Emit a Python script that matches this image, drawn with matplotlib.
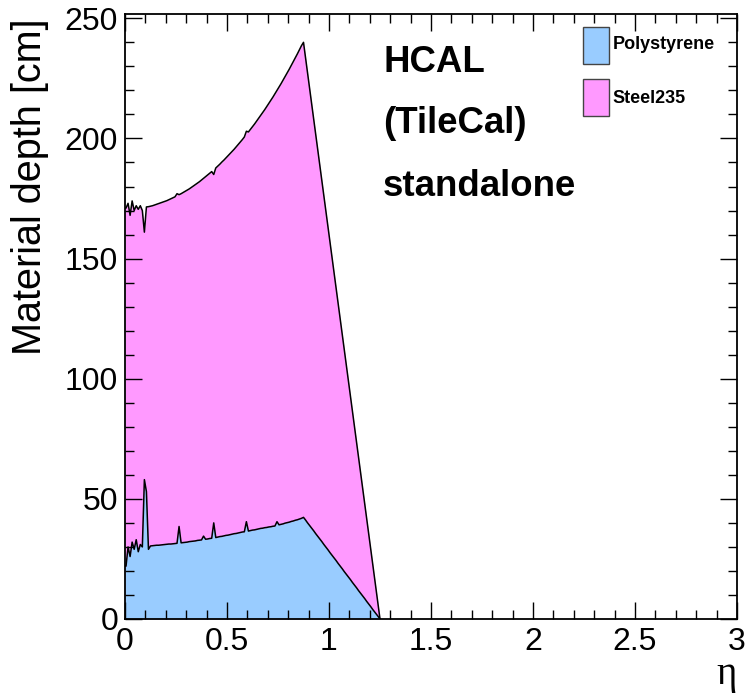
import numpy as np
import matplotlib.pyplot as plt
from matplotlib.patches import Rectangle
from matplotlib.ticker import MultipleLocator, FuncFormatter

# eta bins of width 0.01 from 0 to 1.25
bin_width = 0.01
# stacked top edge (Polystyrene + Steel235)
stack_total = [
    171, 173, 168, 174, 170, 172, 170.5, 172, 170, 161,
    171.5, 171.6, 171.8, 172.0, 172.3, 172.6, 172.9, 173.2, 173.5, 173.8,
    174.1, 174.5, 174.9, 175.3, 175.7, 177.0, 176.6, 177.0, 177.5, 178.0,
    178.5, 179.0, 179.6, 180.2, 180.8, 181.4, 182.0, 182.7, 183.4, 184.1,
    184.8, 185.5, 186.2, 185.0, 187.7, 188.5, 189.3, 190.2, 191.0, 191.9,
    192.8, 193.7, 194.6, 195.5, 196.5, 197.5, 198.5, 199.5, 200.6, 203.0,
    202.7, 203.8, 204.9, 206.0, 207.2, 208.4, 209.6, 210.8, 212.0, 213.3,
    214.6, 215.9, 217.2, 218.6, 220.0, 221.4, 222.8, 224.3, 225.8, 227.3,
    228.8, 230.4, 232.0, 233.6, 235.2, 236.9, 238.6, 240.0, 233.6, 227.2,
    220.8, 214.4, 208.0, 201.6, 195.2, 188.8, 182.4, 176.0, 169.6, 163.2,
    156.8, 150.4, 144.0, 137.6, 131.2, 124.8, 118.4, 112.0, 105.6, 99.2,
    92.8, 86.4, 80.0, 73.6, 67.2, 60.8, 54.4, 48.0, 41.6, 35.2,
    28.8, 22.4, 16.0, 9.6, 3.2,
]
polystyrene = [
    22, 30, 26, 32, 29, 33, 28, 31, 30, 58,
    53, 29, 30.4, 30.5, 30.6, 30.7, 30.7, 30.8, 30.9, 31.0,
    31.1, 31.2, 31.2, 31.3, 31.4, 31.5, 38.5, 31.7, 31.8, 31.9,
    32.0, 32.2, 32.3, 32.4, 32.5, 32.7, 32.8, 32.9, 34.5, 33.2,
    33.3, 33.5, 33.6, 40.0, 33.9, 34.1, 34.3, 34.4, 34.6, 34.8,
    34.9, 35.1, 35.3, 35.5, 35.6, 35.8, 36.0, 36.2, 36.3, 40.5,
    36.6, 36.8, 37.0, 37.1, 37.3, 37.5, 37.7, 37.8, 38.0, 38.1,
    38.3, 38.4, 38.6, 38.7, 40.5, 39.2, 39.4, 39.6, 39.9, 40.1,
    40.3, 40.6, 40.8, 41.1, 41.3, 41.6, 41.9, 42.3, 41.2, 40.0,
    38.9, 37.8, 36.7, 35.5, 34.4, 33.3, 32.2, 31.0, 29.9, 28.8,
    27.6, 26.5, 25.4, 24.3, 23.1, 22.0, 20.9, 19.7, 18.6, 17.5,
    16.4, 15.2, 14.1, 13.0, 11.8, 10.7, 9.6, 8.5, 7.3, 6.2,
    5.1, 3.9, 2.8, 1.7, 0.6,
]
materials = ['Polystyrene', 'Steel235']
colors = ['#99ccff', '#ff99ff']

centers = bin_width / 2 + bin_width * np.arange(len(polystyrene))
x = np.r_[0, centers, len(polystyrene) * bin_width]
poly = np.r_[polystyrene[0], polystyrene, 0]
top = np.r_[stack_total[0], stack_total, 0]

plt.rcParams['font.family'] = ['Liberation Sans', 'DejaVu Sans']

fig = plt.figure(figsize=(7.48, 6.98), dpi=100)
ax = fig.add_axes([125 / 748, 79 / 698, 612 / 748, 605.5 / 698])

ax.fill_between(x, 0, top, color=colors[1], lw=0)
ax.plot(x, top, color='black', lw=1.1)
ax.fill_between(x, 0, poly, color=colors[0], lw=0)
ax.plot(x, poly, color='black', lw=1.1)

ax.set_xlim(0, 3)
ax.set_ylim(0, 252)
ax.xaxis.set_major_locator(MultipleLocator(0.5))
ax.xaxis.set_minor_locator(MultipleLocator(0.1))
ax.yaxis.set_major_locator(MultipleLocator(50))
ax.yaxis.set_minor_locator(MultipleLocator(10))
ax.xaxis.set_major_formatter(FuncFormatter(lambda v, p: f'{v:g}'))
ax.tick_params(which='both', direction='in', top=True, right=True, width=1)
ax.tick_params(which='major', length=12.5, labelsize=23)
ax.tick_params(which='minor', length=6.5)
ax.tick_params(axis='x', pad=6)
ax.tick_params(axis='y', pad=5)
for s in ax.spines.values():
    s.set_linewidth(1.3)

fig.text(30 / 748, 1 - 18 / 698, 'Material depth [cm]', rotation=90,
         ha='center', va='top', fontsize=28.5)
fig.text(727 / 748, 1 - 684 / 698, 'η', ha='center', va='baseline',
         fontsize=28, family=['Liberation Serif', 'DejaVu Serif'])

for txt, yb in [('HCAL', 0.9039), ('(TileCal)', 0.8021), ('standalone', 0.6991)]:
    ax.text(0.4216, yb, txt, transform=ax.transAxes, fontsize=26.4,
            fontweight='bold', va='baseline', ha='left')

# legend drawn by hand in the upper right
for name, col, ytop, ytxt in zip(materials, colors, [0.9777, 0.8918], [0.9496, 0.8588]):
    ax.add_patch(Rectangle((0.748, ytop - 0.0611), 0.0425, 0.0611,
                           transform=ax.transAxes, facecolor=col,
                           edgecolor='#444444', lw=1))
    ax.text(0.797, ytxt, name, transform=ax.transAxes, fontsize=13,
            fontweight='bold', va='center', ha='left')

fig.savefig('out.png', dpi=100)
